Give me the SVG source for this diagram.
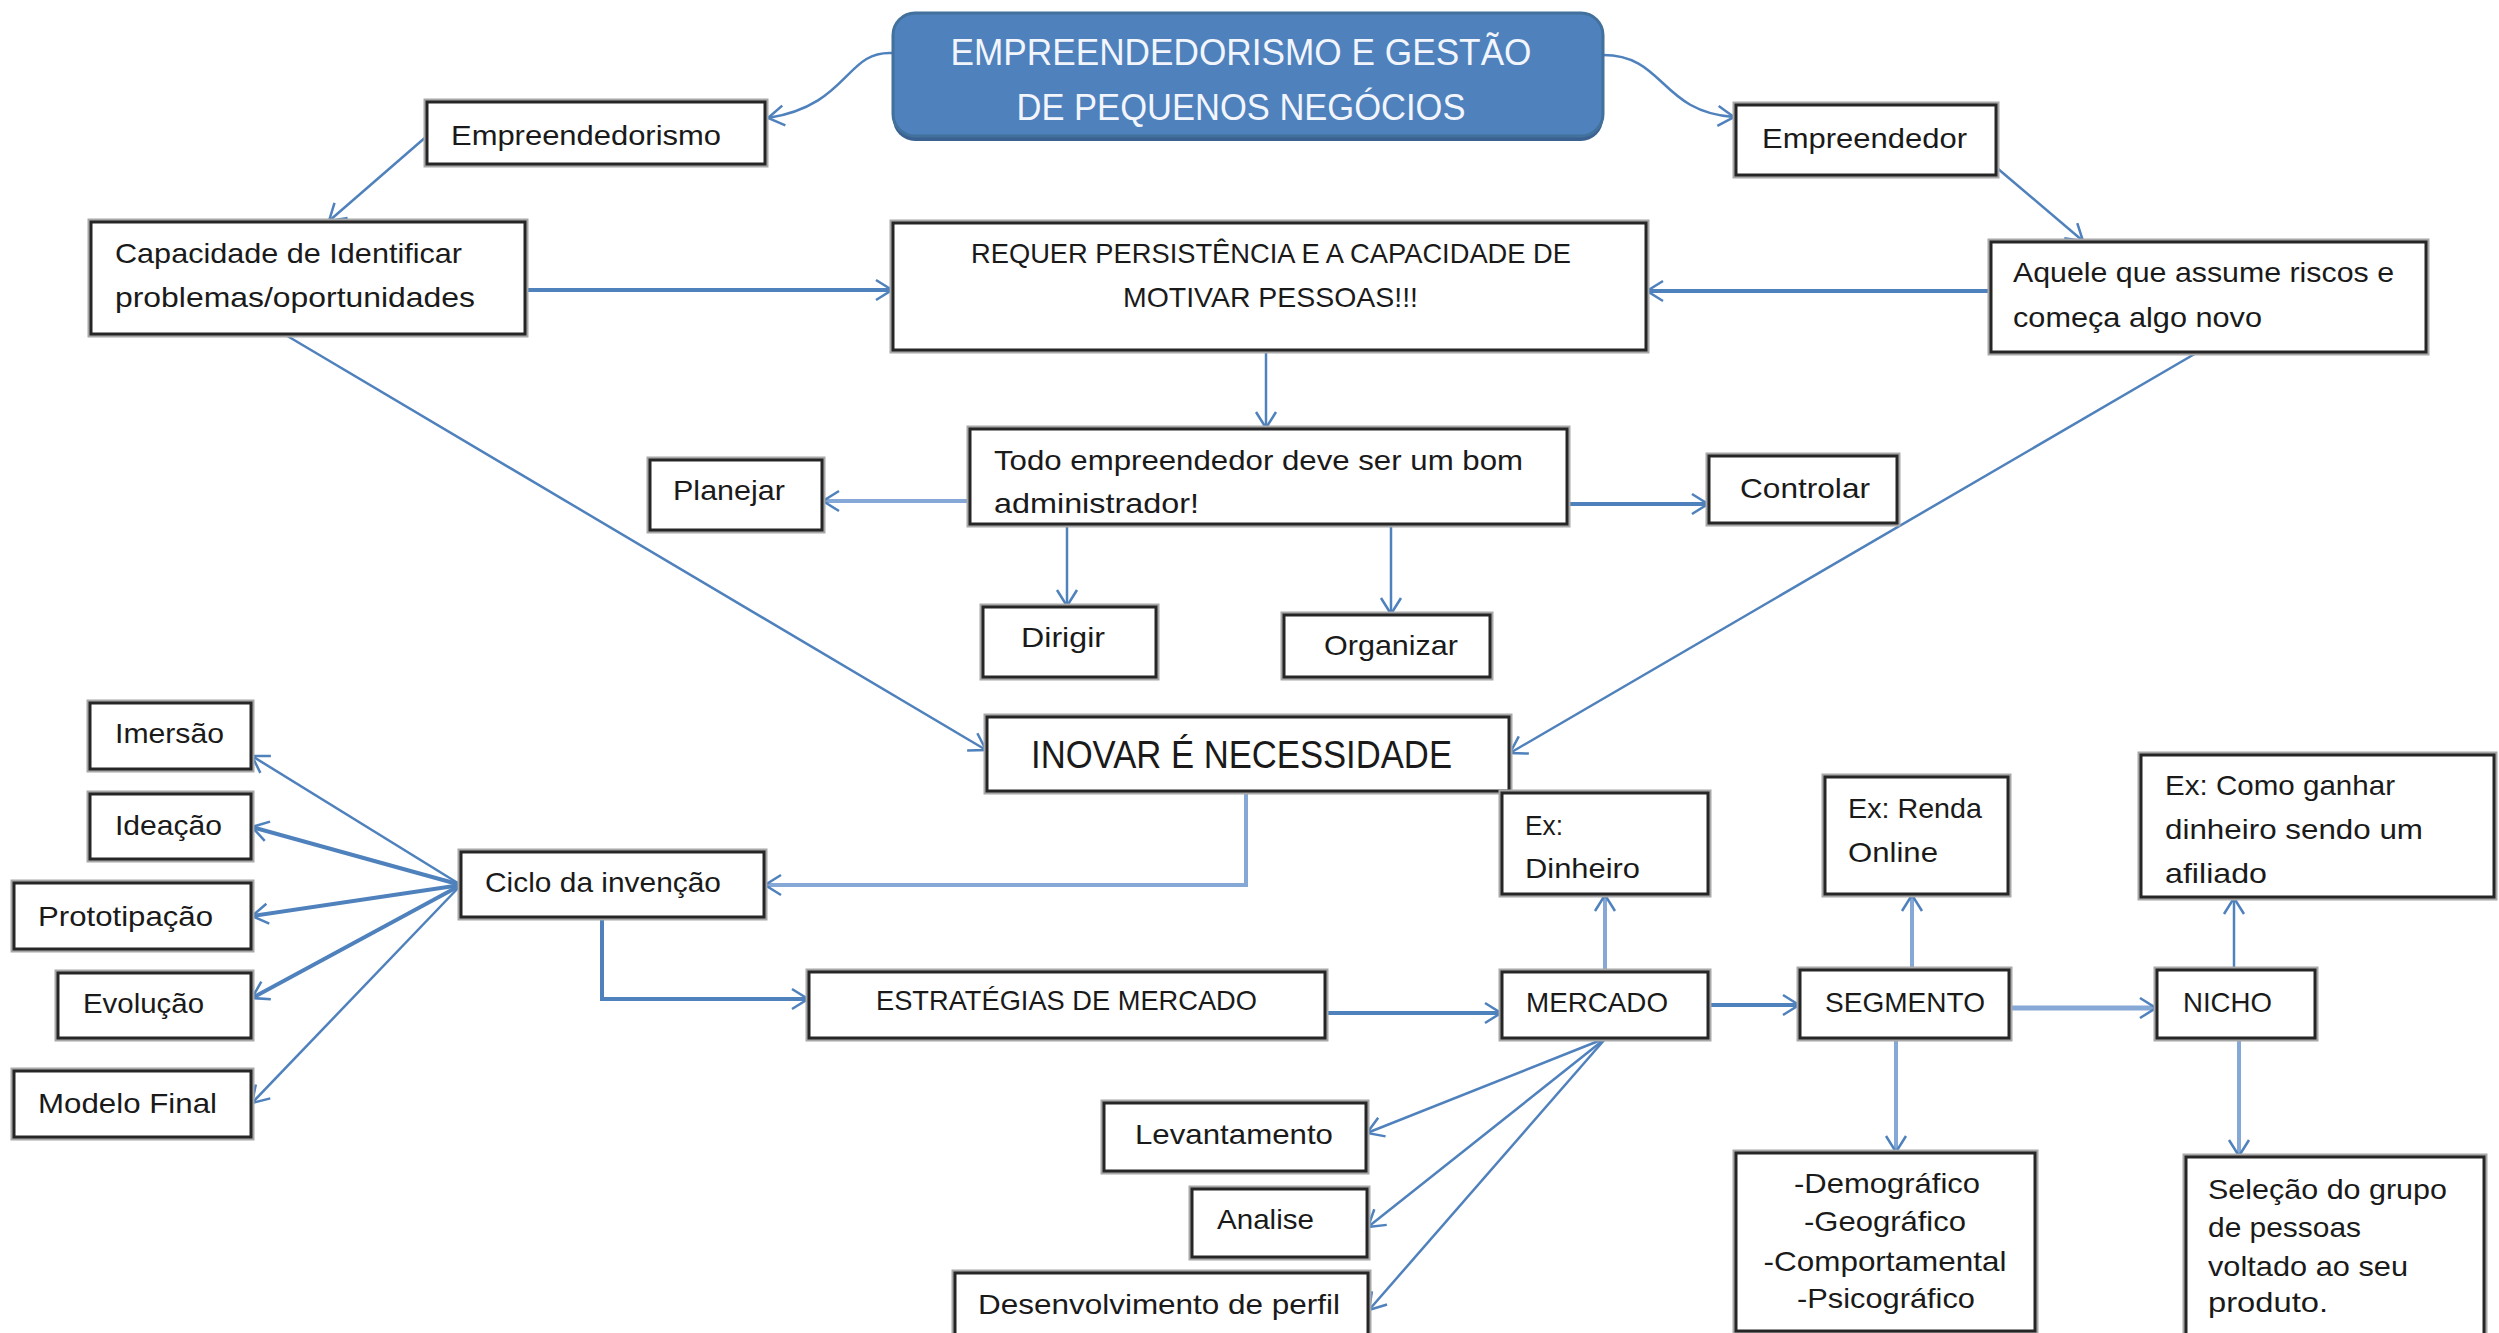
<svg xmlns="http://www.w3.org/2000/svg" width="2499" height="1333" viewBox="0 0 2499 1333">
  <style>
    .halo { fill: none; stroke: #a8a8a8; stroke-width: 7; }
    .box { fill: #ffffff; stroke: #262626; stroke-width: 3; }
    .t { font-family: "Liberation Sans", Arial, sans-serif; font-size: 28px; fill: #1a1a1a; }
    .title { font-family: "Liberation Sans", Arial, sans-serif; font-size: 36px; fill: #f2f6fc; }
    .big { font-size: 38px; }
    .c { fill: none; stroke: #4f81bd; stroke-width: 2.5; marker-end: url(#arr); }
    .thick { stroke-width: 4; }
    .light { stroke: #86a8d6; stroke-width: 4; }
  </style>
  <defs>
    <marker id="arr" markerUnits="userSpaceOnUse" viewBox="0 0 20 24" markerWidth="20" markerHeight="24" refX="18" refY="12" orient="auto">
      <path d="M2,2 L18,12 L2,22" fill="none" stroke="#4f81bd" stroke-width="2.5"/>
    </marker>
  </defs>
  <rect width="2499" height="1333" fill="#ffffff"/>

  <!-- connectors -->
  <g id="connectors">
    <path class="c" d="M893,53 C845,50 850,105 768,118"/>
    <path class="c" d="M1603,55 C1665,55 1660,112 1734,117"/>
    <path class="c" d="M427,136 L329,221"/>
    <path class="c" d="M1997,168 L2083,241"/>
    <path class="c thick" d="M525,290 L892,290"/>
    <path class="c thick" d="M1991,291 L1647,291"/>
    <path class="c" d="M1266,350 L1266,428"/>
    <path class="c thick light" d="M970,501 L823,501"/>
    <path class="c thick" d="M1567,504 L1708,504"/>
    <path class="c" d="M1067,524 L1067,606"/>
    <path class="c" d="M1391,524 L1391,614"/>
    <path class="c" d="M284,334 L986,750"/>
    <path class="c" d="M2198,352 L1510,753"/>
    <path class="c light" d="M1246,791 L1246,885 L765,885"/>
    <path class="c" d="M461,885 L252,756"/>
    <path class="c thick" d="M461,885 L252,827"/>
    <path class="c thick" d="M461,885 L252,916"/>
    <path class="c thick" d="M461,885 L252,998"/>
    <path class="c" d="M461,885 L252,1103"/>
    <path class="c thick" d="M602,917 L602,999 L808,999"/>
    <path class="c thick" d="M1325,1013 L1501,1013"/>
    <path class="c light" d="M1605,972 L1605,895"/>
    <path class="c thick" d="M1708,1005 L1799,1005"/>
    <path class="c light" d="M1912,970 L1912,895"/>
    <path class="c light" style="stroke-width:5" d="M2009,1008 L2156,1008"/>
    <path class="c" d="M2234,970 L2234,898"/>
    <path class="c light" d="M1896,1038 L1896,1152"/>
    <path class="c light" d="M2239,1038 L2239,1156"/>
    <path class="c" d="M1606,1038 L1367,1133"/>
    <path class="c" d="M1606,1038 L1368,1227"/>
    <path class="c" d="M1606,1038 L1369,1310"/>
  </g>

  <!-- central title -->
  <g id="title">
    <rect x="893" y="18" width="710" height="123" rx="22" fill="#3a6190"/>
    <rect x="893" y="13" width="710" height="123" rx="22" fill="#4f81bd" stroke="#41719c" stroke-width="3"/>
    <text class="title" x="1241" y="65" text-anchor="middle" textLength="581" lengthAdjust="spacingAndGlyphs">EMPREENDEDORISMO E GESTÃO</text>
    <text class="title" x="1241" y="120" text-anchor="middle" textLength="449" lengthAdjust="spacingAndGlyphs">DE PEQUENOS NEGÓCIOS</text>
  </g>

  <g id="empreendedorismo">
    <rect class="halo" x="427" y="102" width="338" height="62"/>
    <rect class="box" x="427" y="102" width="338" height="62"/>
    <text class="t" x="451" y="145" textLength="270" lengthAdjust="spacingAndGlyphs">Empreendedorismo</text>
  </g>

  <g id="empreendedor">
    <rect class="halo" x="1736" y="105" width="260" height="70"/>
    <rect class="box" x="1736" y="105" width="260" height="70"/>
    <text class="t" x="1762" y="148" textLength="205" lengthAdjust="spacingAndGlyphs">Empreendedor</text>
  </g>

  <g id="capacidade">
    <rect class="halo" x="91" y="222" width="434" height="112"/>
    <rect class="box" x="91" y="222" width="434" height="112"/>
    <text class="t" x="115" y="263" textLength="347" lengthAdjust="spacingAndGlyphs">Capacidade de Identificar</text>
    <text class="t" x="115" y="307" textLength="360" lengthAdjust="spacingAndGlyphs">problemas/oportunidades</text>
  </g>

  <g id="requer">
    <rect class="halo" x="893" y="223" width="753" height="127"/>
    <rect class="box" x="893" y="223" width="753" height="127"/>
    <text class="t" x="971" y="263" textLength="600" lengthAdjust="spacingAndGlyphs">REQUER PERSISTÊNCIA E A CAPACIDADE DE</text>
    <text class="t" x="1123" y="307" textLength="295" lengthAdjust="spacingAndGlyphs">MOTIVAR PESSOAS!!!</text>
  </g>

  <g id="aquele">
    <rect class="halo" x="1991" y="242" width="435" height="110"/>
    <rect class="box" x="1991" y="242" width="435" height="110"/>
    <text class="t" x="2013" y="282" textLength="381" lengthAdjust="spacingAndGlyphs">Aquele que assume riscos e</text>
    <text class="t" x="2013" y="327" textLength="249" lengthAdjust="spacingAndGlyphs">começa algo novo</text>
  </g>

  <g id="todo">
    <rect class="halo" x="970" y="429" width="597" height="95"/>
    <rect class="box" x="970" y="429" width="597" height="95"/>
    <text class="t" x="994" y="470" textLength="529" lengthAdjust="spacingAndGlyphs">Todo empreendedor deve ser um bom</text>
    <text class="t" x="994" y="513" textLength="205" lengthAdjust="spacingAndGlyphs">administrador!</text>
  </g>

  <g id="planejar">
    <rect class="halo" x="650" y="460" width="172" height="70"/>
    <rect class="box" x="650" y="460" width="172" height="70"/>
    <text class="t" x="673" y="500" textLength="112" lengthAdjust="spacingAndGlyphs">Planejar</text>
  </g>

  <g id="controlar">
    <rect class="halo" x="1709" y="456" width="188" height="67"/>
    <rect class="box" x="1709" y="456" width="188" height="67"/>
    <text class="t" x="1740" y="498" textLength="130" lengthAdjust="spacingAndGlyphs">Controlar</text>
  </g>

  <g id="dirigir">
    <rect class="halo" x="983" y="607" width="173" height="70"/>
    <rect class="box" x="983" y="607" width="173" height="70"/>
    <text class="t" x="1021" y="647" textLength="84" lengthAdjust="spacingAndGlyphs">Dirigir</text>
  </g>

  <g id="organizar">
    <rect class="halo" x="1284" y="615" width="206" height="62"/>
    <rect class="box" x="1284" y="615" width="206" height="62"/>
    <text class="t" x="1324" y="655" textLength="134" lengthAdjust="spacingAndGlyphs">Organizar</text>
  </g>

  <g id="inovar">
    <rect class="halo" x="987" y="717" width="522" height="74"/>
    <rect class="box" x="987" y="717" width="522" height="74"/>
    <text class="t big" x="1031" y="768" textLength="421" lengthAdjust="spacingAndGlyphs">INOVAR É NECESSIDADE</text>
  </g>

  <g id="ciclo">
    <rect class="halo" x="461" y="852" width="303" height="65"/>
    <rect class="box" x="461" y="852" width="303" height="65"/>
    <text class="t" x="485" y="892" textLength="236" lengthAdjust="spacingAndGlyphs">Ciclo da invenção</text>
  </g>

  <g id="imersao">
    <rect class="halo" x="90" y="703" width="161" height="66"/>
    <rect class="box" x="90" y="703" width="161" height="66"/>
    <text class="t" x="115" y="743" textLength="109" lengthAdjust="spacingAndGlyphs">Imersão</text>
  </g>

  <g id="ideacao">
    <rect class="halo" x="90" y="794" width="161" height="65"/>
    <rect class="box" x="90" y="794" width="161" height="65"/>
    <text class="t" x="115" y="835" textLength="107" lengthAdjust="spacingAndGlyphs">Ideação</text>
  </g>

  <g id="prototipacao">
    <rect class="halo" x="14" y="883" width="237" height="66"/>
    <rect class="box" x="14" y="883" width="237" height="66"/>
    <text class="t" x="38" y="926" textLength="175" lengthAdjust="spacingAndGlyphs">Prototipação</text>
  </g>

  <g id="evolucao">
    <rect class="halo" x="58" y="973" width="193" height="65"/>
    <rect class="box" x="58" y="973" width="193" height="65"/>
    <text class="t" x="83" y="1013" textLength="121" lengthAdjust="spacingAndGlyphs">Evolução</text>
  </g>

  <g id="modelo-final">
    <rect class="halo" x="14" y="1071" width="237" height="66"/>
    <rect class="box" x="14" y="1071" width="237" height="66"/>
    <text class="t" x="38" y="1113" textLength="179" lengthAdjust="spacingAndGlyphs">Modelo Final</text>
  </g>

  <g id="estrategias">
    <rect class="halo" x="809" y="972" width="516" height="66"/>
    <rect class="box" x="809" y="972" width="516" height="66"/>
    <text class="t" x="876" y="1010" textLength="381" lengthAdjust="spacingAndGlyphs">ESTRATÉGIAS DE MERCADO</text>
  </g>

  <g id="mercado">
    <rect class="halo" x="1502" y="972" width="206" height="66"/>
    <rect class="box" x="1502" y="972" width="206" height="66"/>
    <text class="t" x="1526" y="1012" textLength="142" lengthAdjust="spacingAndGlyphs">MERCADO</text>
  </g>

  <g id="ex-dinheiro">
    <rect class="halo" x="1502" y="793" width="206" height="101"/>
    <rect class="box" x="1502" y="793" width="206" height="101"/>
    <text class="t" x="1525" y="835" textLength="38" lengthAdjust="spacingAndGlyphs">Ex:</text>
    <text class="t" x="1525" y="878" textLength="115" lengthAdjust="spacingAndGlyphs">Dinheiro</text>
  </g>

  <g id="segmento">
    <rect class="halo" x="1800" y="970" width="209" height="68"/>
    <rect class="box" x="1800" y="970" width="209" height="68"/>
    <text class="t" x="1825" y="1012" textLength="160" lengthAdjust="spacingAndGlyphs">SEGMENTO</text>
  </g>

  <g id="ex-renda">
    <rect class="halo" x="1825" y="777" width="183" height="117"/>
    <rect class="box" x="1825" y="777" width="183" height="117"/>
    <text class="t" x="1848" y="818" textLength="134" lengthAdjust="spacingAndGlyphs">Ex: Renda</text>
    <text class="t" x="1848" y="862" textLength="90" lengthAdjust="spacingAndGlyphs">Online</text>
  </g>

  <g id="nicho">
    <rect class="halo" x="2157" y="970" width="158" height="68"/>
    <rect class="box" x="2157" y="970" width="158" height="68"/>
    <text class="t" x="2183" y="1012" textLength="89" lengthAdjust="spacingAndGlyphs">NICHO</text>
  </g>

  <g id="ex-afiliado">
    <rect class="halo" x="2141" y="755" width="353" height="142"/>
    <rect class="box" x="2141" y="755" width="353" height="142"/>
    <text class="t" x="2165" y="795" textLength="230" lengthAdjust="spacingAndGlyphs">Ex: Como ganhar</text>
    <text class="t" x="2165" y="839" textLength="258" lengthAdjust="spacingAndGlyphs">dinheiro sendo um</text>
    <text class="t" x="2165" y="883" textLength="102" lengthAdjust="spacingAndGlyphs">afiliado</text>
  </g>

  <g id="tipos-segmento">
    <rect class="halo" x="1736" y="1153" width="299" height="178"/>
    <rect class="box" x="1736" y="1153" width="299" height="178"/>
    <text class="t" x="1887" y="1193" text-anchor="middle" textLength="186" lengthAdjust="spacingAndGlyphs">-Demográfico</text>
    <text class="t" x="1885" y="1231" text-anchor="middle" textLength="162" lengthAdjust="spacingAndGlyphs">-Geográfico</text>
    <text class="t" x="1885" y="1271" text-anchor="middle" textLength="243" lengthAdjust="spacingAndGlyphs">-Comportamental</text>
    <text class="t" x="1886" y="1308" text-anchor="middle" textLength="178" lengthAdjust="spacingAndGlyphs">-Psicográfico</text>
  </g>

  <g id="selecao">
    <rect class="halo" x="2186" y="1157" width="298" height="180"/>
    <rect class="box" x="2186" y="1157" width="298" height="180"/>
    <text class="t" x="2208" y="1199" textLength="239" lengthAdjust="spacingAndGlyphs">Seleção do grupo</text>
    <text class="t" x="2208" y="1237" textLength="153" lengthAdjust="spacingAndGlyphs">de pessoas</text>
    <text class="t" x="2208" y="1276" textLength="200" lengthAdjust="spacingAndGlyphs">voltado ao seu</text>
    <text class="t" x="2208" y="1312" textLength="120" lengthAdjust="spacingAndGlyphs">produto.</text>
  </g>

  <g id="levantamento">
    <rect class="halo" x="1104" y="1103" width="262" height="68"/>
    <rect class="box" x="1104" y="1103" width="262" height="68"/>
    <text class="t" x="1135" y="1144" textLength="198" lengthAdjust="spacingAndGlyphs">Levantamento</text>
  </g>

  <g id="analise">
    <rect class="halo" x="1192" y="1189" width="175" height="68"/>
    <rect class="box" x="1192" y="1189" width="175" height="68"/>
    <text class="t" x="1217" y="1229" textLength="97" lengthAdjust="spacingAndGlyphs">Analise</text>
  </g>

  <g id="desenvolvimento">
    <rect class="halo" x="955" y="1273" width="413" height="64"/>
    <rect class="box" x="955" y="1273" width="413" height="64"/>
    <text class="t" x="978" y="1314" textLength="362" lengthAdjust="spacingAndGlyphs">Desenvolvimento de perfil</text>
  </g>
</svg>
